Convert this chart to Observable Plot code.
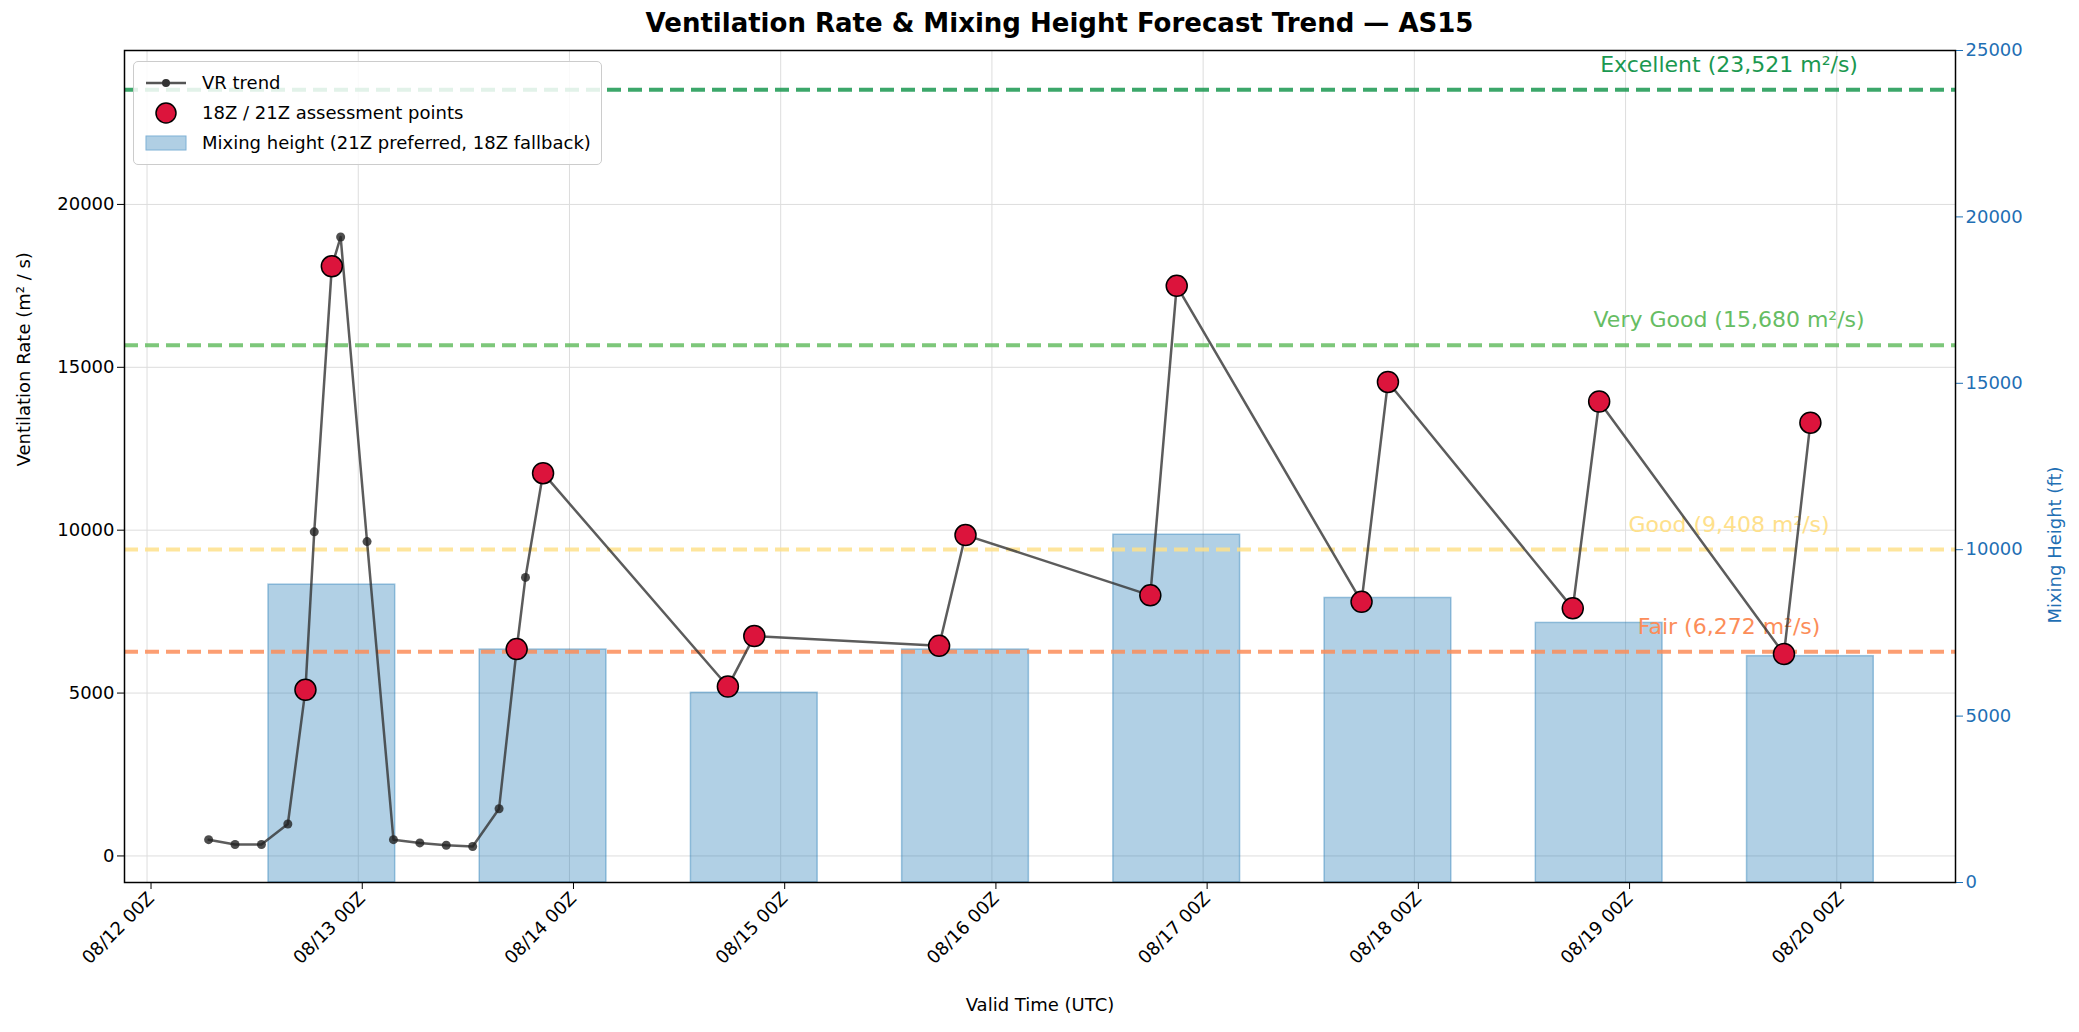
<!DOCTYPE html>
<html><head><meta charset="utf-8">
<script src="https://cdn.jsdelivr.net/npm/d3@7"></script>
<script src="https://cdn.jsdelivr.net/npm/@observablehq/plot@0.6"></script>
<style>
body{margin:0;background:#fff;font-family:"DejaVu Sans",sans-serif;}
#wrap{position:relative;width:2079px;height:1032px;}
#title{position:absolute;top:8px;left:0;width:2079px;text-align:center;font-weight:bold;font-size:26px;margin-left:20px}
#legend{position:absolute;left:133px;top:61px;border:1px solid #ccc;border-radius:5px;background:rgba(255,255,255,0.85);padding:6px 10px;font-size:18px;line-height:30px}
#legend div{display:flex;align-items:center;gap:14px}
</style></head><body>
<div id="wrap"><div id="chart"></div><div id="title">Ventilation Rate &amp; Mixing Height Forecast Trend — AS15</div>
<div id="legend">
<div><svg width="44" height="20"><line x1="2" y1="10" x2="42" y2="10" stroke="#555" stroke-width="2.5"/><circle cx="22" cy="10" r="4" fill="#333"/></svg>VR trend</div>
<div><svg width="44" height="24"><circle cx="22" cy="12" r="10" fill="#dc143c" stroke="#000" stroke-width="1.5"/></svg>18Z / 21Z assessment points</div>
<div><svg width="44" height="20"><rect x="2" y="3" width="40" height="14" fill="#b0cfe4" stroke="#7fb1d6"/></svg>Mixing height (21Z preferred, 18Z fallback)</div>
</div></div>
<script>
const base = Date.UTC(2025,7,12,0);
const H = h => new Date(base + h*3600e3);
// VR trend
const trendHours = [7,10,13,16,18,19,21,22,25,28,31,34,37,40,42,43,45,66,69,90,93,114,117,138,141,162,165,186,189];
const trendVR    = [500,350,350,980,5100,9950,18100,19000,9650,500,400,330,290,1450,6350,8550,11750,5200,6750,6450,9850,8000,17500,7800,14550,7600,13950,6200,13300];
const assessHours = [18,21,42,45,66,69,90,93,114,117,138,141,162,165,186,189];
// Mixing height bars (ft), centred 21Z each day
const barHours = [21,45,69,93,117,141,165,189];
const mixHeight = [8950,7000,5700,7000,10450,8550,7800,6800];
// thresholds
const thrNames = ["Excellent (23,521 m²/s)","Very Good (15,680 m²/s)","Good (9,408 m²/s)","Fair (6,272 m²/s)"];
const thrValues = [23521,15680,9408,6272];
const thrColors = ["#1a9850","#66bd63","#fee08b","#fc8d59"];
const dayTicks = [0,1,2,3,4,5,6,7,8].map(d=>H(d*24));

const yMin=-815, yMax=24725, mhMax=25000;
const toY = mh => yMin + mh/mhMax*(yMax-yMin);
const fromY = y => (y-yMin)/(yMax-yMin)*mhMax;

const trend = trendHours.map((h,i)=>({t:H(h),v:trendVR[i]}));
const assess = trend.filter(d=>assessHours.includes((d.t-base)/3600e3));
const bars = barHours.map((h,i)=>({x1:H(h-7.2),x2:H(h+7.2),y1:toY(0),y2:toY(mixHeight[i])}));
const thr = thrValues.map((v,i)=>({v,name:thrNames[i],c:thrColors[i]}));
const blue="#1f6fb4";
const fmt = d3.utcFormat("%m/%d %HZ");

const chart = Plot.plot({
  width:2079,height:1032,marginTop:50,marginBottom:150,marginLeft:124,marginRight:124,
  style:{fontFamily:"DejaVu Sans, sans-serif",fontSize:"17px",background:"white"},
  x:{type:"utc",domain:[H(-2.56),H(8.562*24)]},
  y:{domain:[yMin,yMax]},
  marks:[
    Plot.gridX(dayTicks,{stroke:"#ddd",strokeOpacity:1}),
    Plot.gridY([0,5000,10000,15000,20000],{stroke:"#ddd",strokeOpacity:1}),
    Plot.rect(bars,{x1:"x1",x2:"x2",y1:"y1",y2:"y2",fill:"#1f77b4",fillOpacity:0.35,stroke:"#1f77b4",strokeOpacity:0.4,strokeWidth:1.5}),
    Plot.ruleY(thr,{y:"v",stroke:"c",strokeWidth:4,strokeDasharray:"14,7",strokeOpacity:0.85}),
    Plot.text(thr,{y:"v",x:()=>H(7.49*24),text:"name",fill:"c",fontSize:22,textAnchor:"middle",dy:-25}),
    Plot.line(trend,{x:"t",y:"v",stroke:"#333",strokeOpacity:0.8,strokeWidth:2.5}),
    Plot.dot(trend,{x:"t",y:"v",r:4.5,fill:"#222",fillOpacity:0.8}),
    Plot.dot(assess,{x:"t",y:"v",r:10.5,fill:"#dc143c",stroke:"#000",strokeWidth:1.5}),
    Plot.axisX(dayTicks,{tickFormat:fmt,tickRotate:-45,textAnchor:"end",tickSize:7,fontSize:18,label:null,dx:4}),
    Plot.text(["Valid Time (UTC)"],{frameAnchor:"bottom",dy:128,fontSize:18}),
    Plot.axisY([0,5000,10000,15000,20000],{tickSize:7,fontSize:18,tickFormat:d=>String(d),label:null}),
    Plot.text(["Ventilation Rate (m² / s)"],{frameAnchor:"left",dx:-100,rotate:-90,fontSize:18}),
    Plot.axisY([0,5000,10000,15000,20000,25000].map(toY),{anchor:"right",tickSize:7,fontSize:18,tickFormat:d=>String(Math.round(fromY(d))),color:blue,stroke:blue,fill:blue,label:null}),
    Plot.text(["Mixing Height (ft)"],{frameAnchor:"right",dx:100,rotate:-90,fontSize:18,fill:blue}),
    Plot.frame({stroke:"#000",strokeWidth:1.5})
  ]
});
document.getElementById("chart").appendChild(chart);
</script></body></html>
